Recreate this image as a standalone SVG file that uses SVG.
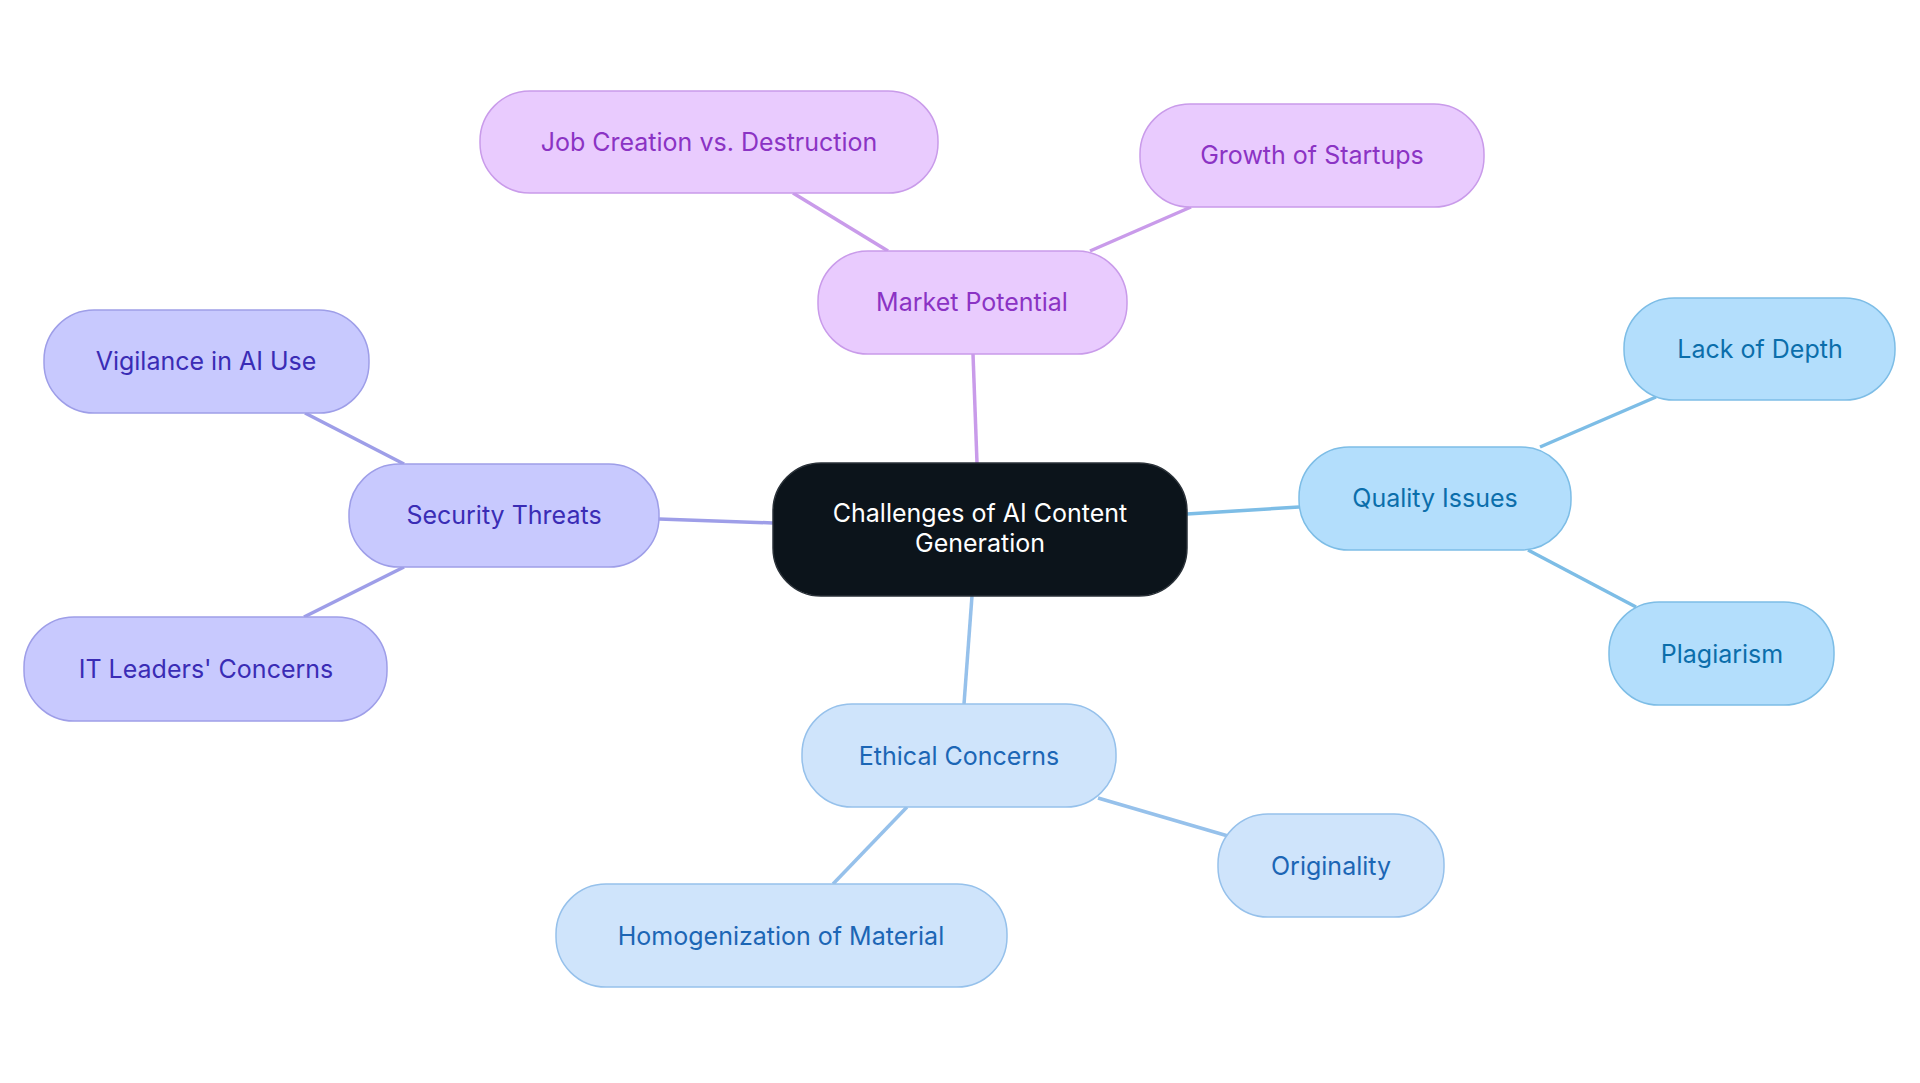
<svg xmlns="http://www.w3.org/2000/svg" width="1920" height="1083" viewBox="0 0 1920 1083">
<style>
text{font-family:Inter,"Noto Sans",sans-serif;font-size:25px;text-anchor:middle;dominant-baseline:central}
.m rect{fill:#E9CBFE;stroke:#C99BEA;stroke-width:1.5}.m text{fill:#8B33C4}
.s rect{fill:#C8C9FE;stroke:#9E9EE8;stroke-width:1.5}.s text{fill:#3A2CB5}
.q rect{fill:#B3DEFC;stroke:#7DBDE6;stroke-width:1.5}.q text{fill:#0B6EAB}
.e rect{fill:#CFE4FB;stroke:#96C1EB;stroke-width:1.5}.e text{fill:#1C66B5}
#edges line{stroke-width:3.5;fill:none}
</style>
<rect width="1920" height="1083" fill="#fff"/>
<g id="edges">
<line x1="977" y1="463" x2="973" y2="354" stroke="#C99BEA"/>
<line x1="888" y1="251" x2="793" y2="193" stroke="#C99BEA"/>
<line x1="1090" y1="251" x2="1191" y2="207" stroke="#C99BEA"/>
<line x1="773" y1="523" x2="659" y2="519" stroke="#9E9EE8"/>
<line x1="404" y1="464" x2="305" y2="413" stroke="#9E9EE8"/>
<line x1="404" y1="567" x2="304" y2="617" stroke="#9E9EE8"/>
<line x1="1187" y1="514" x2="1299" y2="507" stroke="#7DBDE6"/>
<line x1="1540" y1="447" x2="1656" y2="397" stroke="#7DBDE6"/>
<line x1="1528" y1="550" x2="1636" y2="607" stroke="#7DBDE6"/>
<line x1="972" y1="596" x2="964" y2="704" stroke="#96C1EB"/>
<line x1="1098" y1="798" x2="1228" y2="836" stroke="#96C1EB"/>
<line x1="907" y1="807" x2="833" y2="884" stroke="#96C1EB"/>
</g>
<g id="center"><rect x="773" y="463" width="414" height="133" rx="48" fill="#0C141B" stroke="#2a3138" stroke-width="1.5"/><text x="980" y="513" fill="#fff">Challenges of AI Content</text><text x="980" y="543" fill="#fff">Generation</text></g>
<g id="market" class="m"><rect x="818" y="251" width="309" height="103" rx="50"/><text x="972" y="302">Market Potential</text></g>
<g id="job" class="m"><rect x="480" y="91" width="458" height="102" rx="50"/><text x="709" y="142">Job Creation vs. Destruction</text></g>
<g id="growth" class="m"><rect x="1140" y="104" width="344" height="103" rx="50"/><text x="1312" y="155">Growth of Startups</text></g>
<g id="security" class="s"><rect x="349" y="464" width="310" height="103" rx="50"/><text x="504" y="515">Security Threats</text></g>
<g id="vigilance" class="s"><rect x="44" y="310" width="325" height="103" rx="50"/><text x="206" y="361">Vigilance in AI Use</text></g>
<g id="itleaders" class="s"><rect x="24" y="617" width="363" height="104" rx="50"/><text x="206" y="669">IT Leaders' Concerns</text></g>
<g id="quality" class="q"><rect x="1299" y="447" width="272" height="103" rx="50"/><text x="1435" y="498">Quality Issues</text></g>
<g id="depth" class="q"><rect x="1624" y="298" width="271" height="102" rx="50"/><text x="1760" y="349">Lack of Depth</text></g>
<g id="plagiarism" class="q"><rect x="1609" y="602" width="225" height="103" rx="50"/><text x="1722" y="654">Plagiarism</text></g>
<g id="ethical" class="e"><rect x="802" y="704" width="314" height="103" rx="50"/><text x="959" y="756">Ethical Concerns</text></g>
<g id="originality" class="e"><rect x="1218" y="814" width="226" height="103" rx="50"/><text x="1331" y="866">Originality</text></g>
<g id="homog" class="e"><rect x="556" y="884" width="451" height="103" rx="50"/><text x="781" y="936">Homogenization of Material</text></g>
</svg>
